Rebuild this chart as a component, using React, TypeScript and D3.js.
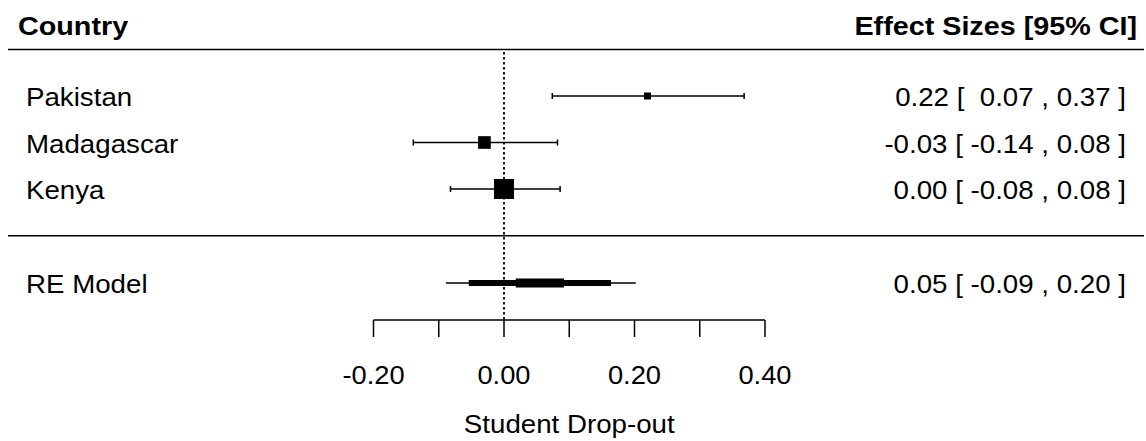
import React from "react";
import * as d3 from "d3";

const countries = ["Pakistan", "Madagascar", "Kenya"];
const estimates = [0.22, -0.03, 0.0];
const ciLower = [0.074, -0.139, -0.082];
const ciUpper = [0.368, 0.082, 0.086];
const weights = [18.5, 32.0, 49.5];
const ciLabels = ["0.22 [  0.07 , 0.37 ]", "-0.03 [ -0.14 , 0.08 ]", "0.00 [ -0.08 , 0.08 ]"];

const modelLabel = "RE Model";
const modelLabelText = "0.05 [ -0.09 , 0.20 ]";
// summary bands: [lower, upper, stroke width]
const modelBandLower = [-0.089, -0.054, 0.018];
const modelBandUpper = [0.202, 0.164, 0.092];
const modelBandWidth = [1.4, 6, 9];

const tickValues = [-0.2, -0.1, 0.0, 0.1, 0.2, 0.3, 0.4];
const tickLabelValues = [-0.2, 0.0, 0.2, 0.4];
const xLabel = "Student Drop-out";
const headerLeft = "Country";
const headerRight = "Effect Sizes [95% CI]";

const W = 1146;
const H = 441;
const FONT = "'Liberation Sans', Arial, sans-serif";
const FS = 26.5;

function T({
  x,
  y,
  children,
  anchor = "start",
  bold = false,
  sx = 1.045,
}: {
  x: number;
  y: number;
  children: React.ReactNode;
  anchor?: "start" | "middle" | "end";
  bold?: boolean;
  sx?: number;
}) {
  return (
    <text
      transform={`translate(${x},${y}) scale(${bold ? 1.085 : sx},1)`}
      fontSize={FS}
      fontWeight={bold ? "bold" : "normal"}
      textAnchor={anchor}
      style={{ whiteSpace: "pre" }}
      fill="#000"
    >
      {children}
    </text>
  );
}

export default function App() {
  const x = d3.scaleLinear().domain([-0.2, 0.4]).range([373.5, 765]);
  const rowY = d3.scalePoint<number>().domain([0, 1, 2]).range([96, 189]);
  const size = d3
    .scaleLinear()
    .domain([d3.min(weights) as number, d3.max(weights) as number])
    .range([7, 20]);
  const modelY = 283;
  const axisY = 320;

  return (
    <svg
      width={W}
      height={H}
      style={{ position: "absolute", left: 0, top: 0, background: "#fff" }}
      fontFamily={FONT}
    >
      <rect x={0} y={0} width={W} height={H} fill="#fff" />
      {/* headers */}
      <T x={18} y={35} bold>
        {headerLeft}
      </T>
      <T x={1137} y={35} bold anchor="end">
        {headerRight}
      </T>
      <line x1={8} x2={1144} y1={49.5} y2={49.5} stroke="#000" strokeWidth={1.6} />
      <line x1={8} x2={1144} y1={235.7} y2={235.7} stroke="#000" strokeWidth={1.6} />

      {/* reference line */}
      <line
        x1={x(0)}
        x2={x(0)}
        y1={52}
        y2={axisY}
        stroke="#000"
        strokeWidth={1.8}
        strokeDasharray="2.5,2.5"
      />

      {/* studies */}
      {countries.map((c, i) => {
        const y = rowY(i) as number;
        const s = size(weights[i]);
        return (
          <g key={c}>
            <T x={26} y={y + 10}>
              {c}
            </T>
            <line x1={x(ciLower[i])} x2={x(ciUpper[i])} y1={y} y2={y} stroke="#000" strokeWidth={1.5} />
            <line x1={x(ciLower[i])} x2={x(ciLower[i])} y1={y - 3} y2={y + 3} stroke="#000" strokeWidth={1.5} />
            <line x1={x(ciUpper[i])} x2={x(ciUpper[i])} y1={y - 3} y2={y + 3} stroke="#000" strokeWidth={1.5} />
            <rect x={x(estimates[i]) - s / 2} y={y - s / 2} width={s} height={s} fill="#000" />
            <T x={1126} y={y + 10} anchor="end">
              {ciLabels[i]}
            </T>
          </g>
        );
      })}

      {/* model */}
      <T x={26} y={modelY + 10}>
        {modelLabel}
      </T>
      {modelBandLower.map((lo, i) => (
        <line
          key={i}
          x1={x(lo)}
          x2={x(modelBandUpper[i])}
          y1={modelY}
          y2={modelY}
          stroke="#000"
          strokeWidth={modelBandWidth[i]}
        />
      ))}
      <T x={1126} y={modelY + 10} anchor="end">
        {modelLabelText}
      </T>

      {/* axis */}
      <line x1={x(-0.2)} x2={x(0.4)} y1={axisY} y2={axisY} stroke="#000" strokeWidth={1.5} />
      {tickValues.map((t) => (
        <line key={t} x1={x(t)} x2={x(t)} y1={axisY} y2={axisY + 17} stroke="#000" strokeWidth={1.5} />
      ))}
      {tickLabelValues.map((t) => (
        <T key={t} x={x(t)} y={383.5} anchor="middle" sx={1.03}>
          {d3.format(".2f")(t).replace("−", "-")}
        </T>
      ))}
      <T x={x(0.1)} y={433} anchor="middle">
        {xLabel}
      </T>
    </svg>
  );
}
